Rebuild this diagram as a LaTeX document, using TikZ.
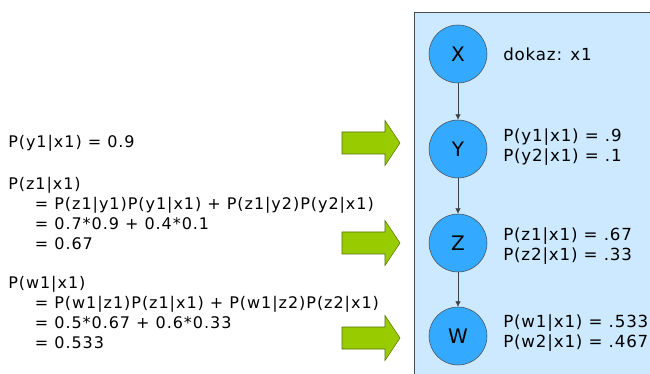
\documentclass[tikz,border=0pt]{standalone}
\usepackage{fontspec}
\setmainfont{DejaVu Sans}
\usetikzlibrary{arrows.meta}
\definecolor{pannello}{RGB}{204,233,255}
\definecolor{nodo}{RGB}{51,170,255}
\definecolor{verde}{RGB}{153,204,0}

\begin{document}
\begin{tikzpicture}[x=0.75pt,y=-0.75pt,
  var/.style={circle, draw=black!70, fill=nodo, minimum size=43.5pt, inner sep=0pt, font=\fontsize{15}{18}\selectfont},
  prob/.style={anchor=west, align=left, inner sep=0pt, font=\fontsize{12}{15}\selectfont\addfontfeature{LetterSpace=6}},
  probr/.style={prob, font=\fontsize{12.5}{15}\selectfont\addfontfeature{LetterSpace=5}},
  freccia/.style={fill=verde, draw=verde!55!black, line width=0.4pt},
  arco/.style={draw=black!75, -{Latex[length=4pt,width=4pt]}}]
\useasboundingbox (0,0) rectangle (650,374);

% Rete
\fill[pannello] (414,12) rectangle (650,374);
\draw[black!70] (414,374) |- (650,12);
\node[var] (X) at (458,54) {X};
\node[var] (Y) at (458,149) {Y};
\node[var] (Z) at (458,243) {Z};
\node[var] (W) at (458,336) {W};
\draw[arco] (X) -- (Y);
\draw[arco] (Y) -- (Z);
\draw[arco] (Z) -- (W);

\node[probr] (px) at (503,54) {dokaz: x1};
\node[probr] (py) at (503,147) {P(y1|x1) = .9\\P(y2|x1) = .1};
\node[probr] (pz) at (503,246) {P(z1|x1) = .67\\P(z2|x1) = .33};
\node[probr] (pw) at (503,333) {P(w1|x1) = .533\\P(w2|x1) = .467};

% Calcolo
\node[prob] (cy) at (8,143) {P(y1|x1) = 0.9};
\node[prob] (cz) at (8,213) {P(z1|x1)\\
  \hspace*{20pt}= P(z1|y1)P(y1|x1) + P(z1|y2)P(y2|x1)\\
  \hspace*{20pt}= 0.7*0.9 + 0.4*0.1\\
  \hspace*{20pt}= 0.67};
\node[prob] (cw) at (8,312) {P(w1|x1)\\
  \hspace*{20pt}= P(w1|z1)P(z1|x1) + P(w1|z2)P(z2|x1)\\
  \hspace*{20pt}= 0.5*0.67 + 0.6*0.33\\
  \hspace*{20pt}= 0.533};

% Frecce
\foreach \yy in {143,243,338}
  \draw[freccia] (342,{\yy-11}) -- (385,{\yy-11}) -- (385,{\yy-22.5}) -- (400,\yy)
    -- (385,{\yy+22.5}) -- (385,{\yy+11}) -- (342,{\yy+11}) -- cycle;
\end{tikzpicture}
\end{document}
